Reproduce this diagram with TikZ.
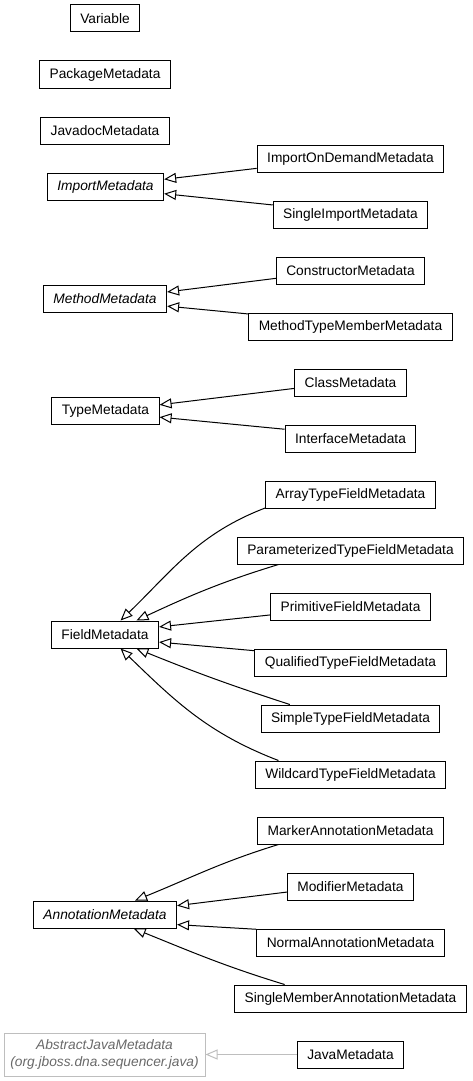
\documentclass[tikz,border=0pt]{standalone}
\usepackage{fontspec}
\setmainfont{Liberation Sans}
\usetikzlibrary{arrows.meta}
\definecolor{externalline}{RGB}{190,190,190}
\definecolor{externaltext}{RGB}{105,105,105}
\tikzstyle{classbox}=[draw,line width=1pt,minimum height=27pt,inner xsep=10pt,inner ysep=0pt,font=\fontsize{13.75}{17}\selectfont]
\tikzstyle{abstractbox}=[classbox,font=\fontsize{13.75}{17}\selectfont\itshape]
\tikzstyle{externalbox}=[abstractbox,draw=externalline,text=externaltext,align=center,inner xsep=6pt,minimum width=201pt,minimum height=43pt]
\tikzstyle{extends}=[draw,line width=1pt,-{Triangle[open,length=12pt,width=10pt]}]

\begin{document}
\begin{tikzpicture}[x=1pt,y=1pt]
\useasboundingbox (0,0) rectangle (472,-1081);

    % superclasses and lone classes on the left
    \foreach \pos/\name/\kind in {{(105,-18.5)/Variable/classbox}, {(105,-74.5)/PackageMetadata/classbox},
        {(105,-130.5)/JavadocMetadata/classbox}, {(105.5,-186.5)/ImportMetadata/abstractbox},
        {(105,-298.5)/MethodMetadata/abstractbox}, {(105.5,-410.5)/TypeMetadata/classbox},
        {(105,-634.5)/FieldMetadata/classbox}, {(105,-914.5)/AnnotationMetadata/abstractbox}}
        \node[\kind] (\name) at \pos {\name};

    \node[externalbox] (AbstractJavaMetadata) at (104.5,-1054.5) {AbstractJavaMetadata\\(org.jboss.dna.sequencer.java)};

    % subclasses on the right, one row every 56pt
    \foreach \name [count=\i from 0] in {ImportOnDemandMetadata, SingleImportMetadata, ConstructorMetadata,
        MethodTypeMemberMetadata, ClassMetadata, InterfaceMetadata, ArrayTypeFieldMetadata,
        ParameterizedTypeFieldMetadata, PrimitiveFieldMetadata, QualifiedTypeFieldMetadata,
        SimpleTypeFieldMetadata, WildcardTypeFieldMetadata, MarkerAnnotationMetadata,
        ModifierMetadata, NormalAnnotationMetadata, SingleMemberAnnotationMetadata, JavaMetadata}
        \node[classbox] (\name) at (350.5,{-158.5-56*\i}) {\name};

    % straight inheritance edges
    \foreach \child/\from/\parent/\to in {ImportOnDemandMetadata/186.7/ImportMetadata/7,
        SingleImportMetadata/173.4/ImportMetadata/353, ConstructorMetadata/186/MethodMetadata/6.5,
        MethodTypeMemberMetadata/173.2/MethodMetadata/353.5, ClassMetadata/186.6/TypeMetadata/6.5,
        InterfaceMetadata/172.5/TypeMetadata/353.5, PrimitiveFieldMetadata/186.7/FieldMetadata/8,
        QualifiedTypeFieldMetadata/173.9/FieldMetadata/352, ModifierMetadata/185.9/AnnotationMetadata/7,
        NormalAnnotationMetadata/172.9/AnnotationMetadata/352}
        \path[extends] (\child.\from) -- (\parent.\to);

    % curved ones
    \foreach \child/\from/\parent/\to/\outangle/\inangle in {ArrayTypeFieldMetadata/189.8/FieldMetadata/42/201/44,
        ParameterizedTypeFieldMetadata/191.6/FieldMetadata/24/197/25,
        SimpleTypeFieldMetadata/167/FieldMetadata/336/162/338,
        WildcardTypeFieldMetadata/169.5/FieldMetadata/318/159/316,
        MarkerAnnotationMetadata/191.6/AnnotationMetadata/25.7/197/22,
        SingleMemberAnnotationMetadata/168.4/AnnotationMetadata/334.3/163/338}
        \path[extends] (\child.\from) to[out=\outangle,in=\inangle] (\parent.\to);

    \path[extends,externalline] (JavaMetadata) -- (AbstractJavaMetadata);

\end{tikzpicture}
\end{document}
